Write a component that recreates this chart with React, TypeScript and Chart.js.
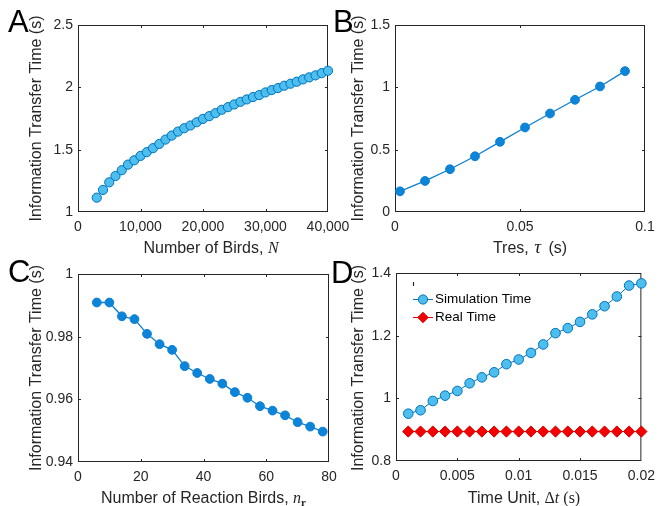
import React, { useEffect, useRef } from 'react';
import { Chart, registerables } from 'chart.js';

Chart.register(...registerables);

const W = 662;
const H = 506;
const SANS = "'Liberation Sans', Arial, Helvetica, sans-serif";
const SERIF = "'Liberation Serif', 'Times New Roman', serif";
const INK = '#262626';

// ---- Panel A: information transfer time vs number of birds ----
const birdsN = [
  3000, 4000, 5000, 6000, 7000, 8000, 9000, 10000, 11000, 12000, 13000, 14000, 15000,
  16000, 17000, 18000, 19000, 20000, 21000, 22000, 23000, 24000, 25000, 26000, 27000,
  28000, 29000, 30000, 31000, 32000, 33000, 34000, 35000, 36000, 37000, 38000, 39000, 40000,
];
const birdsTime = [
  1.115, 1.177, 1.238, 1.289, 1.335, 1.38, 1.415, 1.45, 1.48, 1.512, 1.546, 1.581, 1.613,
  1.645, 1.672, 1.694, 1.72, 1.747, 1.769, 1.793, 1.82, 1.841, 1.863, 1.884, 1.903,
  1.922, 1.938, 1.959, 1.978, 1.994, 2.013, 2.029, 2.045, 2.064, 2.08, 2.096, 2.114, 2.133,
];
const ticksAX = [0, 10000, 20000, 30000, 40000];
const ticksAY = [1, 1.5, 2, 2.5];

// ---- Panel B: information transfer time vs Tres ----
const tresTau = [0.002, 0.012, 0.022, 0.032, 0.042, 0.052, 0.062, 0.072, 0.082, 0.092];
const tresTime = [0.166, 0.249, 0.343, 0.447, 0.563, 0.678, 0.79, 0.9, 1.007, 1.13];
const ticksBX = [0, 0.05, 0.1];
const ticksBY = [0, 0.5, 1, 1.5];

// ---- Panel C: information transfer time vs number of reaction birds ----
const reactionBirds = [6, 10, 14, 18, 22, 26, 30, 34, 38, 42, 46, 50, 54, 58, 62, 66, 70, 74, 78];
const reactionTime = [
  0.9909, 0.9909, 0.9865, 0.9856, 0.9809, 0.9776, 0.9758, 0.9706, 0.9684, 0.9665,
  0.965, 0.9623, 0.9605, 0.9578, 0.9564, 0.9549, 0.9527, 0.9513, 0.9497,
];
const ticksCX = [0, 20, 40, 60, 80];
const ticksCY = [0.94, 0.96, 0.98, 1];

// ---- Panel D: information transfer time vs time unit ----
const timeUnit = [
  0.001, 0.002, 0.003, 0.004, 0.005, 0.006, 0.007, 0.008, 0.009, 0.01,
  0.011, 0.012, 0.013, 0.014, 0.015, 0.016, 0.017, 0.018, 0.019, 0.02,
];
const simulationTime = [
  0.951, 0.962, 0.9915, 1.0085, 1.0235, 1.048, 1.067, 1.083, 1.109, 1.124,
  1.145, 1.172, 1.208, 1.224, 1.244, 1.268, 1.294, 1.325, 1.36, 1.367,
];
const realTime = [
  0.894, 0.894, 0.894, 0.894, 0.894, 0.894, 0.894, 0.894, 0.894, 0.894,
  0.894, 0.894, 0.894, 0.894, 0.894, 0.894, 0.894, 0.894, 0.894, 0.894,
];
const ticksDX = [0, 0.005, 0.01, 0.015, 0.02];
const ticksDY = [0.8, 1, 1.2, 1.4];
const legendD = ['Simulation Time', 'Real Time'];

const yTitle = 'Information Transfer Time (s)';

type Seg = { t: string; font: string; dy?: number; gap?: number };
type Area = { l: number; t: number; r: number; b: number };

interface Panel {
  letter: string;
  letterPos: [number, number];
  area: Area;
  xTicks: number[];
  yTicks: number[];
  fmtX: (v: number) => string;
  datasets: any[];
  xTitle: Seg[];
  xTitleCenter: [number, number];
  yTitleCenter: [number, number];
  legend?: boolean;
}

const zip = (xs: number[], ys: number[]) => xs.map((x, i) => ({ x, y: ys[i] }));
const fmtNum = (v: number) => String(Number(v.toFixed(6)));

const lightMarker = {
  showLine: true,
  borderColor: '#0072BD',
  borderWidth: 1,
  pointRadius: 4.6,
  pointBorderWidth: 1,
  pointBackgroundColor: '#4DBEEE',
  pointBorderColor: '#0072BD',
  clip: false,
};
const darkMarker = {
  showLine: true,
  borderColor: '#0C7FD2',
  borderWidth: 1.3,
  pointRadius: 4.4,
  pointBorderWidth: 1,
  pointBackgroundColor: '#0C84D8',
  pointBorderColor: '#0C7FD2',
  clip: false,
};

const f16 = `16px ${SANS}`;
const s16 = `16px ${SERIF}`;
const i16 = `italic 16px ${SERIF}`;

const panels: Panel[] = [
  {
    letter: 'A',
    letterPos: [8, 32],
    area: { l: 78, t: 25, r: 328, b: 212 },
    xTicks: ticksAX,
    yTicks: ticksAY,
    fmtX: (v) => v.toLocaleString('en-US'),
    datasets: [{ ...lightMarker, label: 'A', data: zip(birdsN, birdsTime) }],
    xTitle: [
      { t: 'Number of Birds, ', font: f16 },
      { t: 'N', font: i16 },
    ],
    xTitleCenter: [211, 253],
    yTitleCenter: [37, 118.5],
  },
  {
    letter: 'B',
    letterPos: [333, 32],
    area: { l: 395, t: 25, r: 645, b: 212 },
    xTicks: ticksBX,
    yTicks: ticksBY,
    fmtX: fmtNum,
    datasets: [{ ...darkMarker, label: 'B', data: zip(tresTau, tresTime) }],
    xTitle: [
      { t: 'Tres, ', font: f16, gap: 1 },
      { t: 'τ', font: `italic 19px ${SERIF}`, gap: 3 },
      { t: ' (s)', font: f16 },
    ],
    xTitleCenter: [530, 253],
    yTitleCenter: [358.5, 118.5],
  },
  {
    letter: 'C',
    letterPos: [8, 282],
    area: { l: 78, t: 274, r: 329, b: 462 },
    xTicks: ticksCX,
    yTicks: ticksCY,
    fmtX: fmtNum,
    datasets: [{ ...darkMarker, label: 'C', data: zip(reactionBirds, reactionTime) }],
    xTitle: [
      { t: 'Number of Reaction Birds, ', font: f16 },
      { t: 'n', font: i16 },
      { t: 'r', font: `bold 11px ${SERIF}`, dy: 3 },
    ],
    xTitleCenter: [203.5, 503],
    yTitleCenter: [37, 368],
  },
  {
    letter: 'D',
    letterPos: [331, 283],
    area: { l: 396, t: 273, r: 645, b: 461 },
    xTicks: ticksDX,
    yTicks: ticksDY,
    fmtX: fmtNum,
    datasets: [
      { ...lightMarker, label: legendD[0], pointRadius: 4.8, data: zip(timeUnit, simulationTime) },
      {
        label: legendD[1],
        data: zip(timeUnit, realTime),
        showLine: true,
        borderColor: '#E00000',
        borderWidth: 1,
        pointStyle: 'rectRot',
        pointRadius: 5.6,
        pointBorderWidth: 1,
        pointBackgroundColor: '#F50000',
        pointBorderColor: '#CC0000',
        clip: false,
      },
    ],
    xTitle: [
      { t: 'Time Unit, ', font: f16 },
      { t: 'Δ', font: s16 },
      { t: 't', font: i16 },
      { t: ' (s)', font: s16 },
    ],
    xTitleCenter: [524, 503],
    yTitleCenter: [358.5, 368],
    legend: true,
  },
];

function drawSegs(ctx: CanvasRenderingContext2D, segs: Seg[], cx: number, y: number) {
  let total = 0;
  for (const s of segs) {
    ctx.font = s.font;
    total += ctx.measureText(s.t).width + (s.gap || 0);
  }
  let x = cx - total / 2;
  ctx.textAlign = 'left';
  ctx.textBaseline = 'alphabetic';
  for (const s of segs) {
    ctx.font = s.font;
    ctx.fillText(s.t, x, y + (s.dy || 0));
    x += ctx.measureText(s.t).width + (s.gap || 0);
  }
}

function makePlugin(p: Panel) {
  return {
    id: 'deco' + p.letter,
    beforeDatasetsDraw(chart: any) {
      const ctx: CanvasRenderingContext2D = chart.ctx;
      const { left, right, top, bottom } = chart.chartArea;
      ctx.save();
      ctx.strokeStyle = INK;
      ctx.lineWidth = 1;
      ctx.strokeRect(left + 0.5, top + 0.5, right - left - 1, bottom - top - 1);
      ctx.beginPath();
      const xs = chart.scales.x;
      const ys = chart.scales.y;
      const len = 3;
      for (const t of xs.ticks) {
        const px = Math.round(xs.getPixelForValue(t.value)) + 0.5;
        if (px < left + 2 || px > right - 2) continue;
        ctx.moveTo(px, bottom);
        ctx.lineTo(px, bottom - len);
        ctx.moveTo(px, top);
        ctx.lineTo(px, top + len);
      }
      for (const t of ys.ticks) {
        const py = Math.round(ys.getPixelForValue(t.value)) + 0.5;
        if (py < top + 2 || py > bottom - 2) continue;
        ctx.moveTo(left, py);
        ctx.lineTo(left + len, py);
        ctx.moveTo(right, py);
        ctx.lineTo(right - len, py);
      }
      ctx.stroke();
      ctx.restore();
    },
    afterDraw(chart: any) {
      const ctx: CanvasRenderingContext2D = chart.ctx;
      ctx.save();
      // y title
      ctx.fillStyle = INK;
      ctx.font = f16;
      ctx.translate(p.yTitleCenter[0], p.yTitleCenter[1]);
      ctx.rotate(-Math.PI / 2);
      ctx.textAlign = 'center';
      ctx.textBaseline = 'middle';
      ctx.fillText(yTitle, 0, 0);
      ctx.restore();

      ctx.save();
      ctx.fillStyle = INK;
      drawSegs(ctx, p.xTitle, p.xTitleCenter[0], p.xTitleCenter[1]);
      // panel letter
      ctx.fillStyle = '#000';
      ctx.font = `31px ${SANS}`;
      ctx.textAlign = 'left';
      ctx.textBaseline = 'alphabetic';
      ctx.fillText(p.letter, p.letterPos[0], p.letterPos[1]);

      if (p.legend) {
        const ds = chart.data.datasets;
        const rows = [299.5, 317.5];
        // small legend-box remnant mark
        ctx.strokeStyle = INK;
        ctx.lineWidth = 1.2;
        ctx.beginPath();
        ctx.moveTo(413.5, 282);
        ctx.lineTo(413.5, 286);
        ctx.stroke();
        ds.forEach((d: any, i: number) => {
          const y = rows[i];
          ctx.strokeStyle = d.borderColor;
          ctx.lineWidth = 1;
          ctx.beginPath();
          ctx.moveTo(413, y);
          ctx.lineTo(433, y);
          ctx.stroke();
          ctx.fillStyle = d.pointBackgroundColor;
          ctx.strokeStyle = d.pointBorderColor;
          ctx.beginPath();
          if (d.pointStyle === 'rectRot') {
            const r = 5.2;
            ctx.moveTo(423, y - r);
            ctx.lineTo(423 + r, y);
            ctx.lineTo(423, y + r);
            ctx.lineTo(423 - r, y);
            ctx.closePath();
          } else {
            ctx.arc(423, y, 4.6, 0, Math.PI * 2);
          }
          ctx.fill();
          ctx.stroke();
          ctx.fillStyle = '#000';
          ctx.font = `13.5px ${SANS}`;
          ctx.textAlign = 'left';
          ctx.textBaseline = 'middle';
          ctx.fillText(d.label, 435, y);
        });
      }
      ctx.restore();
    },
  };
}

function PanelChart({ p }: { p: Panel }) {
  const ref = useRef<HTMLCanvasElement>(null);
  useEffect(() => {
    if (!ref.current) return;
    const yW = 60;
    const xH = 40;
    const tickFont = { family: SANS, size: 14 };
    const chart = new Chart(ref.current, {
      type: 'scatter',
      data: { datasets: p.datasets },
      options: {
        responsive: false,
        animation: false,
        events: [],
        layout: {
          padding: {
            left: p.area.l - yW,
            top: p.area.t,
            right: W - p.area.r,
            bottom: H - p.area.b - xH,
          },
        },
        plugins: { legend: { display: false }, tooltip: { enabled: false } },
        scales: {
          x: {
            type: 'linear',
            min: p.xTicks[0],
            max: p.xTicks[p.xTicks.length - 1],
            grid: { display: false, drawTicks: false },
            border: { display: false },
            ticks: {
              font: tickFont,
              color: INK,
              padding: 7,
              maxRotation: 0,
              autoSkip: false,
              callback: (v: any) => p.fmtX(Number(v)),
            },
            afterBuildTicks: (s: any) => {
              s.ticks = p.xTicks.map((v) => ({ value: v }));
            },
            afterFit: (s: any) => {
              s.height = xH;
            },
          },
          y: {
            type: 'linear',
            min: p.yTicks[0],
            max: p.yTicks[p.yTicks.length - 1],
            grid: { display: false, drawTicks: false },
            border: { display: false },
            ticks: {
              font: tickFont,
              color: INK,
              padding: 5,
              autoSkip: false,
              callback: (v: any) => fmtNum(Number(v)),
            },
            afterBuildTicks: (s: any) => {
              s.ticks = p.yTicks.map((v) => ({ value: v }));
            },
            afterFit: (s: any) => {
              s.width = yW;
            },
          },
        },
      },
      plugins: [makePlugin(p)],
    } as any);
    return () => chart.destroy();
  }, [p]);
  return (
    <canvas
      ref={ref}
      width={W}
      height={H}
      style={{ position: 'absolute', left: 0, top: 0, width: W, height: H }}
    />
  );
}

export default function App() {
  return (
    <div
      style={{
        position: 'absolute',
        left: 0,
        top: 0,
        width: W,
        height: H,
        background: '#fff',
        overflow: 'hidden',
      }}
    >
      {panels.map((p) => (
        <PanelChart key={p.letter} p={p} />
      ))}
    </div>
  );
}
